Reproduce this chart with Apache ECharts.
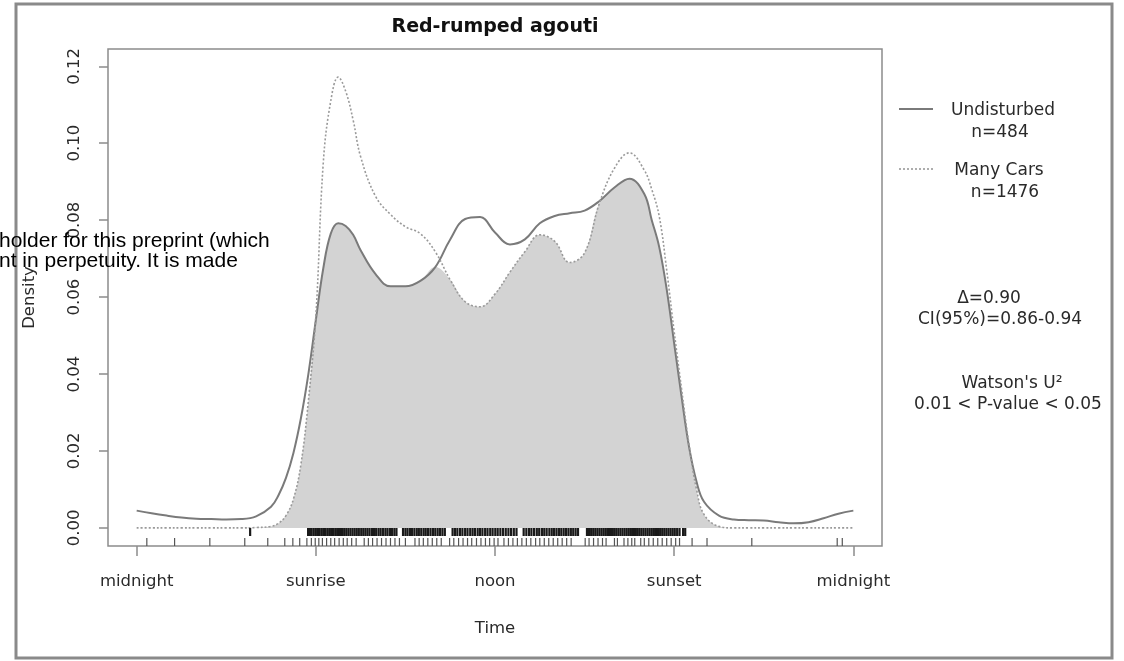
<!DOCTYPE html>
<html>
<head>
<meta charset="utf-8">
<script src="https://cdn.jsdelivr.net/npm/echarts@6/dist/echarts.min.js"></script>
<style>
  html, body { margin: 0; padding: 0; background: #fff; }
  #chart { width: 1124px; height: 661px; }
</style>
</head>
<body>
<div id="chart"></div>
<script>
// Hour of day at which the two kernel densities are sampled
const hours = [0, 0.5, 1, 1.5, 2, 2.5, 3, 3.5, 4, 4.5, 4.75, 5, 5.25, 5.5, 5.75, 6, 6.25, 6.5, 6.75, 7, 7.25, 7.5,
  8, 8.5, 9, 9.5, 10, 10.5, 11, 11.5, 12, 12.5, 13, 13.5, 14, 14.5, 15, 15.5, 16, 16.5, 17, 17.25, 17.5, 17.75,
  18, 18.25, 18.5, 18.75, 19, 19.5, 20, 20.5, 21, 21.5, 22, 22.5, 23, 23.5, 24];

// Activity density, undisturbed sites (solid line)
const undisturbed = [0.0045, 0.0038, 0.0032, 0.0027, 0.0024, 0.0023, 0.0022, 0.0023, 0.0030, 0.0055, 0.0085, 0.0130,
  0.0195, 0.0285, 0.0400, 0.0540, 0.0675, 0.0765, 0.0792, 0.0785, 0.0762, 0.0722,
  0.0660, 0.0628, 0.0628, 0.0642, 0.0678, 0.0750, 0.0803, 0.0808, 0.0768, 0.0737, 0.0750, 0.0792, 0.0811, 0.0818,
  0.0825, 0.0850, 0.0885, 0.0908, 0.0868, 0.0800, 0.0730, 0.0620,
  0.0480, 0.0340, 0.0210, 0.0120, 0.0068, 0.0032, 0.0022, 0.0020, 0.0019, 0.0015, 0.0012, 0.0015, 0.0025, 0.0037, 0.0045];

// Activity density, sites with many cars (dotted line)
const manyCars = [0, 0, 0, 0, 0, 0, 0, 0, 0.0001, 0.0004, 0.0012, 0.0032,
  0.0075, 0.0165, 0.0330, 0.0550, 0.0950, 0.1110, 0.1172, 0.1135, 0.1060, 0.0965,
  0.0862, 0.0815, 0.0783, 0.0765, 0.0718, 0.0645, 0.0588, 0.0575, 0.0608, 0.0665, 0.0718, 0.0762, 0.0745, 0.0690,
  0.0715, 0.0845, 0.0935, 0.0975, 0.0930, 0.0880, 0.0810, 0.0670,
  0.0510, 0.0360, 0.0215, 0.0100, 0.0035, 0.0004, 0, 0, 0, 0, 0, 0, 0, 0, 0];

// Shared area under both curves
const overlap = hours.map((_, i) => Math.min(undisturbed[i], manyCars[i]));

// Axis ticks
const xTickHours = [0, 6, 12, 18, 24];
const xTickLabels = ['midnight', 'sunrise', 'noon', 'sunset', 'midnight'];
const yTicks = [0, 0.02, 0.04, 0.06, 0.08, 0.10, 0.12];

// Detection times (hours) shown as rug ticks under the axis
const rugManyCars = [3.80,
  5.74, 5.80, 5.86, 5.93, 6.00, 6.07, 6.13, 6.20, 6.27, 6.33, 6.40, 6.47, 6.54, 6.60, 6.67, 6.74, 6.81, 6.88,
  6.95, 7.02, 7.09, 7.16, 7.23, 7.30, 7.37, 7.44, 7.52, 7.59, 7.66, 7.73, 7.80, 7.88, 7.95, 8.02, 8.10, 8.17,
  8.25, 8.33, 8.40, 8.48, 8.55, 8.63, 8.70, 8.92, 9.00, 9.07, 9.15, 9.22, 9.30, 9.38, 9.45, 9.53, 9.61, 9.68,
  9.76, 9.84, 9.92, 10.00, 10.08, 10.16, 10.24, 10.32, 10.58, 10.66, 10.74, 10.83, 10.91, 11.00, 11.08, 11.17,
  11.25, 11.33, 11.42, 11.50, 11.58, 11.67, 11.75, 11.84, 11.92, 12.01, 12.09, 12.18, 12.27, 12.36, 12.45,
  12.54, 12.63, 12.72, 12.96, 13.05, 13.14, 13.22, 13.31, 13.40, 13.48, 13.57, 13.65, 13.73, 13.82, 13.90,
  13.98, 14.06, 14.14, 14.22, 14.30, 14.38, 14.46, 14.54, 14.62, 14.70, 14.78, 15.08, 15.15, 15.22, 15.29,
  15.36, 15.43, 15.50, 15.57, 15.64, 15.71, 15.78, 15.85, 15.92, 15.99, 16.06, 16.13, 16.20, 16.27, 16.34,
  16.41, 16.48, 16.55, 16.62, 16.69, 16.76, 16.83, 16.90, 16.97, 17.04, 17.11, 17.18, 17.25, 17.32, 17.39,
  17.46, 17.53, 17.60, 17.67, 17.74, 17.81, 17.88, 17.95, 18.02, 18.10, 18.18, 18.30, 18.37];

const rugUndisturbed = [0.34, 1.27, 2.45, 3.62, 4.39, 4.96, 5.23, 5.46, 5.70,
  5.85, 5.98, 6.10, 6.22, 6.36, 6.50, 6.63, 6.78, 6.92, 7.05, 7.20, 7.35, 7.62, 7.76, 7.90, 8.05, 8.20, 8.35,
  8.50, 8.65, 8.80, 9.00, 9.32, 9.46, 9.60, 9.75, 9.90, 10.05, 10.20, 10.48, 10.62, 10.78, 10.93, 11.08, 11.22,
  11.38, 11.53, 11.68, 11.82, 11.97, 12.10, 12.30, 12.45, 12.60, 12.75, 12.90, 13.05, 13.20, 13.36, 13.50,
  13.65, 13.80, 13.95, 14.10, 14.25, 14.40, 14.55, 15.02, 15.15, 15.30, 15.45, 15.60, 15.72, 16.00, 16.10,
  16.32, 16.45, 16.58, 16.68, 16.88, 17.00, 17.15, 17.30, 17.45, 17.60, 17.75, 17.90, 18.05, 18.18, 18.60,
  19.10, 20.60, 23.46, 23.63];

const FONT = '"DejaVu Sans", sans-serif';
const TEXT = '#2a2a2a';
const GRAY = '#8c8c8c';

const pairs = ys => hours.map((h, i) => [h, ys[i]]);

// Rug tick drawn upward from the bottom of the plot box
function rugRenderer(offset, len, color, width) {
  return function (params, api) {
    const cs = params.coordSys;
    const x = api.coord([api.value(0), 0])[0];
    const bottom = cs.y + cs.height;
    return {
      type: 'line',
      shape: { x1: x, y1: bottom - offset, x2: x, y2: bottom - offset - len },
      style: { stroke: color, lineWidth: width }
    };
  };
}

function label(x, y, text, font, fill, align) {
  return {
    type: 'text', x: x, y: y, z: 10,
    style: { text: text, font: font, fill: fill,
      textAlign: align || 'center', textVerticalAlign: 'middle',
      align: align || 'center', verticalAlign: 'middle' }
  };
}

const chart = echarts.init(document.getElementById('chart'), null, { renderer: 'canvas' });

chart.setOption({
  backgroundColor: '#ffffff',
  animation: false,
  grid: {
    left: 108, right: 242, top: 49, bottom: 115,
    show: true, borderColor: GRAY, borderWidth: 1.5, backgroundColor: 'transparent'
  },
  xAxis: {
    type: 'value', min: -0.96, max: 24.96,
    axisLine: { show: false, onZero: false },
    splitLine: { show: false },
    axisTick: { customValues: xTickHours, length: 10, lineStyle: { color: GRAY, width: 1.5 } },
    axisLabel: {
      customValues: xTickHours,
      formatter: v => xTickLabels[xTickHours.findIndex(t => Math.abs(t - v) < 1e-6)],
      margin: 27, fontSize: 16.5, color: TEXT, fontFamily: FONT
    },
    name: 'Time', nameLocation: 'middle', nameGap: 74,
    nameTextStyle: { fontSize: 16.5, color: TEXT, fontFamily: FONT }
  },
  yAxis: {
    type: 'value', min: -0.0047, max: 0.1245,
    axisLine: { show: false, onZero: false },
    splitLine: { show: false },
    axisTick: { customValues: yTicks, length: 9, lineStyle: { color: GRAY, width: 1.5 } },
    axisLabel: {
      customValues: yTicks, rotate: 90,
      formatter: v => v.toFixed(2),
      margin: 25, fontSize: 16.5, color: TEXT, fontFamily: FONT
    },
    name: 'Density', nameLocation: 'middle', nameGap: 70, nameRotate: 90,
    nameTextStyle: { fontSize: 16.5, color: TEXT, fontFamily: FONT }
  },
  series: [
    {
      name: 'Overlap', type: 'line', data: pairs(overlap), smooth: 0.4, symbol: 'none',
      lineStyle: { width: 0 }, areaStyle: { color: '#d3d3d3', opacity: 1 }, z: 1
    },
    {
      name: 'Undisturbed', type: 'line', data: pairs(undisturbed), smooth: 0.4, symbol: 'none',
      lineStyle: { color: '#7a7a7a', width: 2 }, z: 3
    },
    {
      name: 'Many Cars', type: 'line', data: pairs(manyCars), smooth: 0.4, symbol: 'none',
      lineStyle: { color: '#9a9a9a', width: 1.6, type: [2, 2] }, z: 3
    },
    {
      name: 'Many Cars rug', type: 'custom', data: rugManyCars.map(h => [h, 0]),
      encode: { x: 0, y: 1 }, clip: false, z: 4,
      renderItem: rugRenderer(10, 8, '#1a1a1a', 2.2)
    },
    {
      name: 'Undisturbed rug', type: 'custom', data: rugUndisturbed.map(h => [h, 0]),
      encode: { x: 0, y: 1 }, clip: false, z: 4,
      renderItem: rugRenderer(0, 8, '#555555', 1.2)
    }
  ],
  graphic: [
    // outer frame
    { type: 'rect', shape: { x: 16, y: 4, width: 1096, height: 654 },
      style: { fill: 'none', stroke: '#8a8a8a', lineWidth: 3 }, z: 0 },
    // title
    label(495, 27, 'Red-rumped agouti', 'bold 19px ' + FONT, '#111'),
    // legend
    { type: 'line', shape: { x1: 899, y1: 109, x2: 933, y2: 109 }, style: { stroke: '#7a7a7a', lineWidth: 2 }, z: 10 },
    { type: 'line', shape: { x1: 899, y1: 169, x2: 933, y2: 169 }, style: { stroke: '#9a9a9a', lineWidth: 1.6, lineDash: [2, 2] }, z: 10 },
    label(1003, 111, 'Undisturbed', '17px ' + FONT, TEXT),
    label(1000, 133, 'n=484', '17px ' + FONT, TEXT),
    label(999, 171, 'Many Cars', '17px ' + FONT, TEXT),
    label(1005, 193, 'n=1476', '17px ' + FONT, TEXT),
    // overlap statistics
    label(989, 299, 'Δ=0.90', '17px ' + FONT, TEXT),
    label(1000, 320, 'CI(95%)=0.86-0.94', '17px ' + FONT, TEXT),
    label(1012, 384, 'Watson\'s U²', '17px ' + FONT, TEXT),
    label(1008, 405, '0.01 < P-value < 0.05', '17px ' + FONT, TEXT),
    // page text laid over the figure
    Object.assign(label(-1, 241, 'holder for this preprint (which', '21px "Liberation Sans", Arial, sans-serif', '#000', 'left'), { z: 20 }),
    Object.assign(label(-1, 261, 'nt in perpetuity. It is made', '21px "Liberation Sans", Arial, sans-serif', '#000', 'left'), { z: 20 })
  ]
});
</script>
</body>
</html>
